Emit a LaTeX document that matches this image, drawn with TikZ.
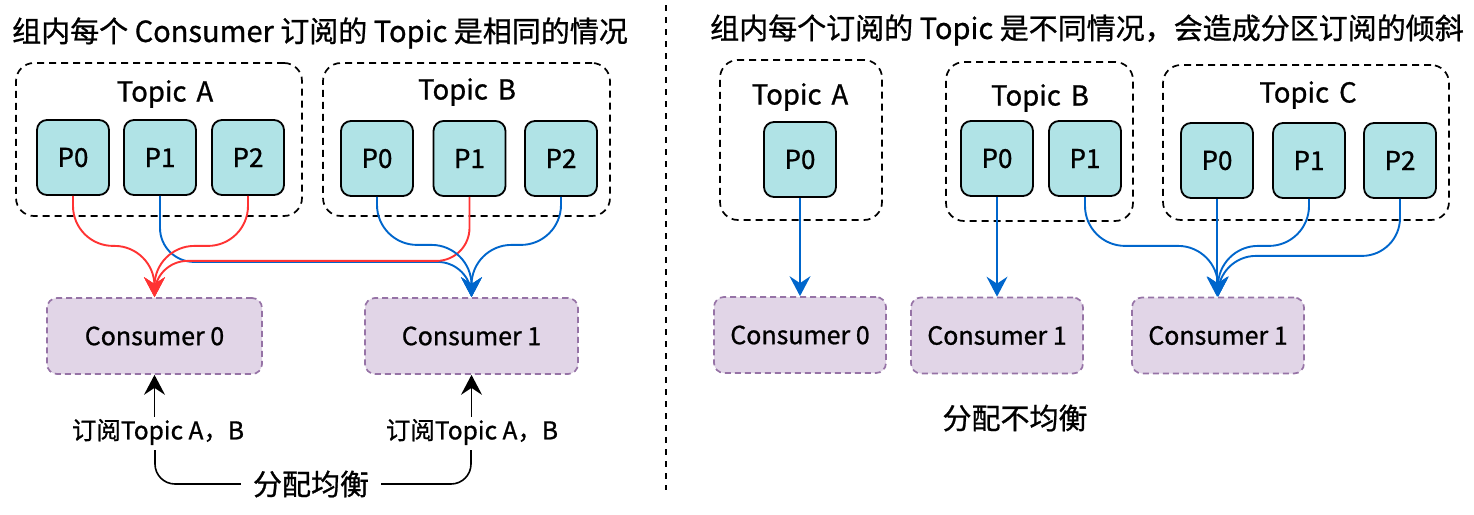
\documentclass[tikz,border=0pt]{standalone}
\usepackage{fontspec}
\setmainfont{Noto Sans CJK SC}[FakeBold=0.9]
\usetikzlibrary{arrows.meta}
\definecolor{pfill}{HTML}{B0E3E6}
\definecolor{cfill}{HTML}{E1D5E7}
\definecolor{cdraw}{HTML}{9673A6}
\definecolor{ered}{HTML}{FF3333}
\definecolor{eblue}{HTML}{0066CC}
\tikzset{
  part/.style={draw=black, line width=1.8pt, fill=pfill, rounded corners=10pt,
    minimum width=72pt, minimum height=75pt, inner sep=0pt, font=\fontsize{26}{28}\selectfont},
  topicbox/.style={draw=black, line width=1.7pt, dash pattern=on 7pt off 5pt,
    rounded corners=18pt, inner sep=0pt},
  topiclabel/.style={font=\fontsize{27.5}{30}\selectfont, inner sep=0pt},
  cons/.style={draw=cdraw, line width=1.7pt, dash pattern=on 6pt off 4pt, fill=cfill,
    rounded corners=10pt, minimum height=76pt, inner sep=0pt, font=\fontsize{25}{28}\selectfont},
  flow/.style={line width=1.9pt, -{Stealth[length=20pt,width=21pt,inset=7pt]}},
  redflow/.style={flow, draw=ered},
  blueflow/.style={flow, draw=eblue},
  upflow/.style={line width=1.9pt, draw=black, -{Stealth[length=20pt,width=21pt,inset=7pt]}},
  title/.style={font=\fontsize{29}{32}\selectfont, inner sep=0pt, anchor=west},
  sublabel/.style={font=\fontsize{24.5}{28}\selectfont, inner sep=2pt},
  note/.style={font=\fontsize{29}{32}\selectfont, inner sep=0pt},
}
\begin{document}
\begin{tikzpicture}[x=1pt, y=-1pt]
\useasboundingbox (0,0) rectangle (1474,514);

% titles and divider
\node[title] (t1) at (12,33) {组内每个 Consumer 订阅的 Topic 是相同的情况};
\node[title] (t2) at (710,30) {组内每个订阅的 Topic 是不同情况，会造成分区订阅的倾斜};
\coordinate (d1) at (666,5);
\coordinate (d2) at (666,490);
\draw[line width=1.3pt, dash pattern=on 6pt off 6pt] (d1) -- (d2);

% ---------------- left ----------------
\node[topicbox, minimum width=286pt, minimum height=153pt] (lta) at (159,139.5) {};
\node[topicbox, minimum width=287pt, minimum height=153pt] (ltb) at (466.5,139.5) {};
\node[topiclabel] (ltal) at (165,94) {Topic\hspace{10pt}A};
\node[topiclabel] (ltbl) at (467,92) {Topic\hspace{10pt}B};

\node[part] (la0) at (73,157.5) {P0};
\node[part] (la1) at (160,157.5) {P1};
\node[part] (la2) at (248,157.5) {P2};
\node[part] (lb0) at (377,158.5) {P0};
\node[part] (lb1) at (469.5,158.5) {P1};
\node[part] (lb2) at (561,158.5) {P2};

\node[cons, minimum width=215pt] (lc0) at (154.5,336) {Consumer 0};
\node[cons, minimum width=213pt] (lc1) at (471.5,336) {Consumer 1};

\draw[blueflow, rounded corners=34pt] (la1.south) -- ++(0,66) -| (lc1.north);
\draw[redflow, rounded corners=33pt] (lb1.south) -- ++(0,64) -| (lc0.north);
\draw[redflow, rounded corners=40pt] (la0.south) -- ++(0,50) -| (lc0.north);
\draw[redflow, rounded corners=40pt] (la2.south) -- ++(0,50) -| (lc0.north);
\draw[blueflow, rounded corners=40pt] (lb0.south) -- ++(0,48) -| (lc1.north);
\draw[blueflow, rounded corners=40pt] (lb2.south) -- ++(0,48) -| (lc1.north);

\node[sublabel] (ls0) at (158,432) {订阅Topic A，B};
\node[sublabel] (ls1) at (472,432) {订阅Topic A，B};
\coordinate (ls0b) at (155,450);
\coordinate (ls1b) at (471,450);
\draw[upflow] (ls0.north -| lc0.south) -- (lc0.south);
\draw[upflow] (ls1.north -| lc1.south) -- (lc1.south);

\node[note, inner xsep=12pt] (bal) at (311,484) {分配均衡};
\draw[line width=1.6pt, rounded corners=20pt] (ls0b) |- (bal.west);
\draw[line width=1.6pt, rounded corners=20pt] (bal.east) -| (ls1b);

% ---------------- right ----------------
\node[topicbox, minimum width=162pt, minimum height=160pt] (rta) at (801,140) {};
\node[topicbox, minimum width=187pt, minimum height=159pt] (rtb) at (1039.5,141.5) {};
\node[topicbox, minimum width=286pt, minimum height=155pt] (rtc) at (1306,142.5) {};
\node[topiclabel] (rtal) at (800,97) {Topic\hspace{10pt}A};
\node[topiclabel] (rtbl) at (1040,98) {Topic\hspace{10pt}B};
\node[topiclabel] (rtcl) at (1308,95) {Topic\hspace{10pt}C};

\node[part] (ra0) at (800,159.5) {P0};
\node[part] (rb0) at (997,158.5) {P0};
\node[part] (rb1) at (1085,158.5) {P1};
\node[part] (rc0) at (1217,160.5) {P0};
\node[part] (rc1) at (1309,160.5) {P1};
\node[part] (rc2) at (1400,160.5) {P2};

\node[cons, minimum width=172pt] (rk0) at (800,335) {Consumer 0};
\node[cons, minimum width=172pt] (rk1) at (997,335.5) {Consumer 1};
\node[cons, minimum width=172pt] (rk2) at (1218,335.5) {Consumer 1};

\draw[blueflow] (ra0.south) -- (ra0.south |- rk0.north);
\draw[blueflow] (rb0.south) -- (rb0.south |- rk1.north);
\draw[blueflow, rounded corners=40pt] (rb1.south) -- ++(0,49) -| (rk2.north);
\draw[blueflow] (rc0.south) -- (rc0.south |- rk2.north);
\draw[blueflow, rounded corners=40pt] (rc1.south) -- ++(0,47) -| (rk2.north);
\draw[blueflow, rounded corners=38pt] (rc2.south) -- ++(0,57) -| (rk2.north);

\node[note] (unbal) at (1015,418) {分配不均衡};
\end{tikzpicture}
\end{document}
